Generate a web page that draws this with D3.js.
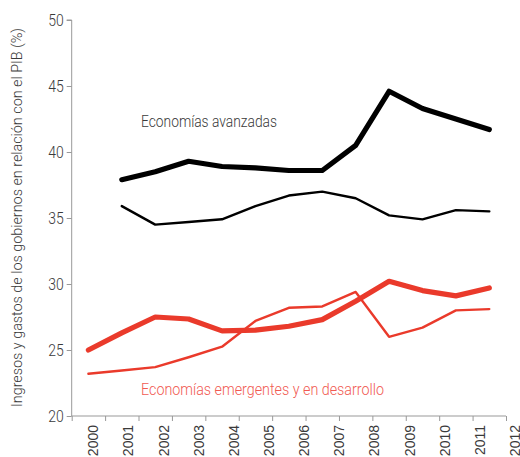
<!DOCTYPE html>
<html>
<head>
<meta charset="utf-8">
<script src="https://cdn.jsdelivr.net/npm/d3@7"></script>
<style>
  html, body { margin: 0; padding: 0; background: #fff; }
  svg { display: block; }
</style>
</head>
<body>
<svg id="chart" width="520" height="457"></svg>
<script>
// ---- data ----
const years = [2000, 2001, 2002, 2003, 2004, 2005, 2006, 2007, 2008, 2009, 2010, 2011, 2012];
const yTicks = [20, 25, 30, 35, 40, 45, 50];
const xTickLabels = ["2000","2001","2002","2003","2004","2005","2006","2007","2008","2009","2010","2011","2012"];
// Economías avanzadas (2001–2012)
const advYears = [2001, 2002, 2003, 2004, 2005, 2006, 2007, 2008, 2009, 2010, 2011, 2012];
const advThick = [37.9, 38.5, 39.3, 38.9, 38.8, 38.6, 38.6, 40.5, 44.6, 43.3, 42.5, 41.7];
const advThin  = [35.9, 34.5, 34.7, 34.9, 35.9, 36.7, 37.0, 36.5, 35.2, 34.9, 35.6, 35.5];
// Economías emergentes y en desarrollo (2000–2012)
const emYears = years;
const emThick = [25.0, 26.3, 27.5, 27.35, 26.45, 26.5, 26.8, 27.3, 28.7, 30.2, 29.5, 29.1, 29.7];
const emThin  = [23.2, 23.45, 23.7, 24.45, 25.25, 27.2, 28.2, 28.3, 29.4, 26.0, 26.7, 28.0, 28.1];
const labelAdv = "Economías avanzadas";
const labelEm = "Economías emergentes y en desarrollo";
const yTitle = "Ingresos y gastos de los gobiernos en relación con el PIB (%)";

// ---- layout ----
const svg = d3.select("#chart");
const axisX0 = 71.7, axisX1 = 506;
const axisY0 = 416, axisY1 = 20;
const black = "#000", red = "#ea3a2b", redText = "#f15a52", textCol = "#3a3a3a", axisCol = "#999";
const font = "Roboto, 'Open Sans', sans-serif";

// edge scale for tick marks (band boundaries)
const xEdge = d3.scaleLinear().domain([2000, 2013]).range([axisX0, axisX1]);
// data positioned at band centres
const x = yr => xEdge(yr + 0.5);
// label scale
const xLab = d3.scaleLinear().domain([2000, 2012]).range([93.3, 515]);
const y = d3.scaleLinear().domain([20, 50]).range([axisY0, axisY1]);

// y axis
const gy = svg.append("g").attr("transform", `translate(${axisX0},0)`)
  .call(d3.axisLeft(y).tickValues(yTicks).tickSize(5).tickPadding(3).tickFormat(d3.format("d")));
gy.select(".domain").attr("stroke", axisCol).attr("d", `M-5,${y(50)}H0V${y(20)}`);
gy.selectAll(".tick line").attr("stroke", axisCol);
gy.selectAll(".tick text").attr("fill", textCol).attr("font-family", font).attr("font-size", 16.5)
  .attr("font-weight", 300).attr("textLength", 15.5).attr("lengthAdjust", "spacingAndGlyphs");

// x axis
const gx = svg.append("g").attr("transform", `translate(0,${axisY0})`)
  .call(d3.axisBottom(xEdge).tickValues(d3.range(2000, 2014)).tickSize(5).tickFormat(""));
gx.select(".domain").attr("stroke", axisCol).attr("d", `M${axisX0},0H${axisX1}`);
gx.selectAll(".tick line").attr("stroke", axisCol);

svg.append("g").selectAll("text").data(xTickLabels).join("text")
  .attr("transform", (d, i) => `translate(${xLab(years[i])},425) rotate(-90)`)
  .attr("text-anchor", "end").attr("dy", "0.36em")
  .attr("font-family", "'Liberation Sans', Arial, sans-serif").attr("font-size", 14)
  .attr("fill", textCol).text(d => d);

// y title
svg.append("text")
  .attr("transform", `translate(17,217.5) rotate(-90)`)
  .attr("text-anchor", "middle").attr("dy", "0.35em")
  .attr("font-family", font).attr("font-size", 15).attr("font-weight", 300).attr("fill", textCol)
  .attr("textLength", 379).attr("lengthAdjust", "spacingAndGlyphs")
  .text(yTitle);

// lines
const line = (xs) => d3.line().x((d, i) => x(xs[i])).y(d => y(d)).curve(d3.curveLinear);
function draw(xs, vals, color, w) {
  svg.append("path").datum(vals)
    .attr("d", line(xs)).attr("fill", "none").attr("stroke", color)
    .attr("stroke-width", w).attr("stroke-linejoin", "round").attr("stroke-linecap", "round");
}
draw(advYears, advThin, black, 2.4);
draw(advYears, advThick, black, 5.2);
draw(emYears, emThin, red, 2.4);
draw(emYears, emThick, red, 5.2);

// labels
svg.append("text").attr("x", 141).attr("y", 127)
  .attr("font-family", font).attr("font-size", 16.5).attr("font-weight", 300).attr("fill", textCol)
  .attr("textLength", 136).attr("lengthAdjust", "spacingAndGlyphs")
  .text(labelAdv);
svg.append("text").attr("x", 141).attr("y", 394.5)
  .attr("font-family", font).attr("font-size", 16.5).attr("font-weight", 300).attr("fill", redText)
  .attr("textLength", 243).attr("lengthAdjust", "spacingAndGlyphs")
  .text(labelEm);
</script>
</body>
</html>
